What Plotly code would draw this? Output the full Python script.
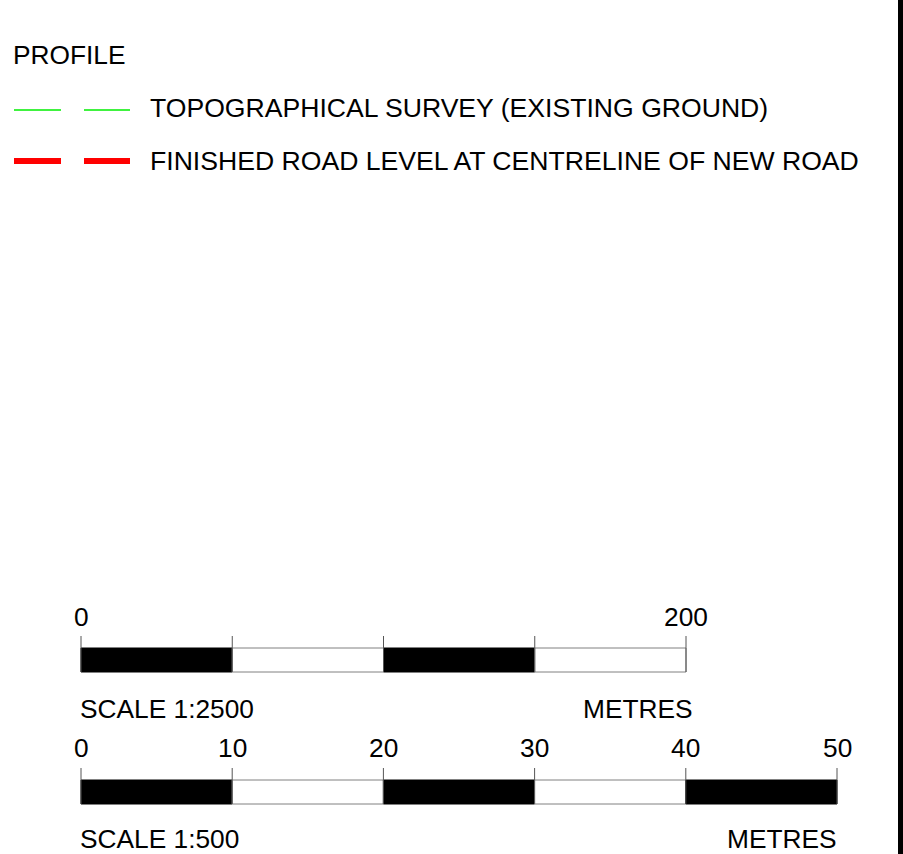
import plotly.graph_objects as go

# ---- data ----
legend_title = "PROFILE"
legend_labels = ["TOPOGRAPHICAL SURVEY (EXISTING GROUND)",
                 "FINISHED ROAD LEVEL AT CENTRELINE OF NEW ROAD"]
legend_colors = ["#00ee00", "#ff0000"]
legend_widths = [1.5, 6]

scale1_breaks = [0, 50, 100, 150, 200]
scale1_labels = {0: "0", 200: "200"}
scale1_title = "SCALE 1:2500"

scale2_breaks = [0, 10, 20, 30, 40, 50]
scale2_labels = {0: "0", 10: "10", 20: "20", 30: "30", 40: "40", 50: "50"}
scale2_title = "SCALE 1:500"
unit_text = "METRES"

W, H = 903, 854
FONT = dict(family="Liberation Sans, Arial, sans-serif", size=26.3, color="#000000")
FONT_LEG = dict(FONT, size=26.6)

fig = go.Figure()
shapes = []
ann = []

# page (pixel) axes
layout_axes = dict(
    xaxis=dict(range=[0, W], visible=False, fixedrange=True),
    yaxis=dict(range=[H, 0], visible=False, fixedrange=True),
)
# scale-bar axes: value 0 at px 81
x0px = 81
end1px, end2px = 686, 837
k1 = (end1px - x0px) / scale1_breaks[-1]
k2 = (end2px - x0px) / scale2_breaks[-1]
layout_axes["xaxis2"] = dict(range=[-x0px / k1, (W - x0px) / k1], visible=False,
                             overlaying="x", anchor="y", fixedrange=True)
layout_axes["xaxis3"] = dict(range=[-x0px / k2, (W - x0px) / k2], visible=False,
                             overlaying="x", anchor="y", fixedrange=True)

# legend section
ann.append(dict(x=11, y=55, xref="x", yref="y", text=legend_title, showarrow=False,
                xanchor="left", yanchor="middle", font=FONT))
for i, (lab, col, lw) in enumerate(zip(legend_labels, legend_colors, legend_widths)):
    yy = [110, 161][i]
    for xa, xb in [(14, 61), (84, 130)]:
        shapes.append(dict(type="line", xref="x", yref="y", x0=xa, x1=xb, y0=yy, y1=yy,
                           line=dict(color=col, width=lw)))
    ann.append(dict(x=148, y=yy - 2 if i == 0 else yy, xref="x", yref="y", text=lab,
                    showarrow=False, xanchor="left", yanchor="middle", font=FONT_LEG))


def scale_bar(breaks, labels, xref, ytop, ybot, ytick, ylab, title, ytitle, unit_x, unit_anchor):
    for j in range(len(breaks) - 1):
        fill = "#000000" if j % 2 == 0 else "#ffffff"
        shapes.append(dict(type="rect", xref=xref, yref="y", x0=breaks[j], x1=breaks[j + 1],
                           y0=ytop, y1=ybot, fillcolor=fill,
                           line=dict(color="#808080" if j % 2 else "#000000", width=1)))
    for b in breaks:
        shapes.append(dict(type="line", xref=xref, yref="y", x0=b, x1=b, y0=ytick, y1=ybot,
                           line=dict(color="#555555", width=1)))
    for v, t in labels.items():
        ann.append(dict(x=v, y=ylab, xref=xref, yref="y", text=t, showarrow=False,
                        xanchor="center", yanchor="middle", font=FONT))
    ann.append(dict(x=78, y=ytitle, xref="x", yref="y", text=title, showarrow=False,
                    xanchor="left", yanchor="middle", font=FONT))
    ann.append(dict(x=unit_x, y=ytitle, xref="x", yref="y", text=unit_text, showarrow=False,
                    xanchor=unit_anchor, yanchor="middle", font=FONT))


scale_bar(scale1_breaks, scale1_labels, "x2", 648, 672, 636, 617, scale1_title, 709, 638, "center")
scale_bar(scale2_breaks, scale2_labels, "x3", 780, 804, 768, 748, scale2_title, 839, 839, "right")

# right border
shapes.append(dict(type="rect", xref="x", yref="y", x0=898, x1=W + 2, y0=-2, y1=H + 2,
                   fillcolor="#000000", line=dict(width=0)))

fig.update_layout(
    width=W, height=H, margin=dict(l=0, r=0, t=0, b=0),
    paper_bgcolor="#ffffff", plot_bgcolor="#ffffff",
    showlegend=False, shapes=shapes, annotations=ann, **layout_axes,
)
fig.write_html("out.html", config={"displayModeBar": False},
               post_script="document.body.style.margin='0';document.body.style.overflow='hidden';")
